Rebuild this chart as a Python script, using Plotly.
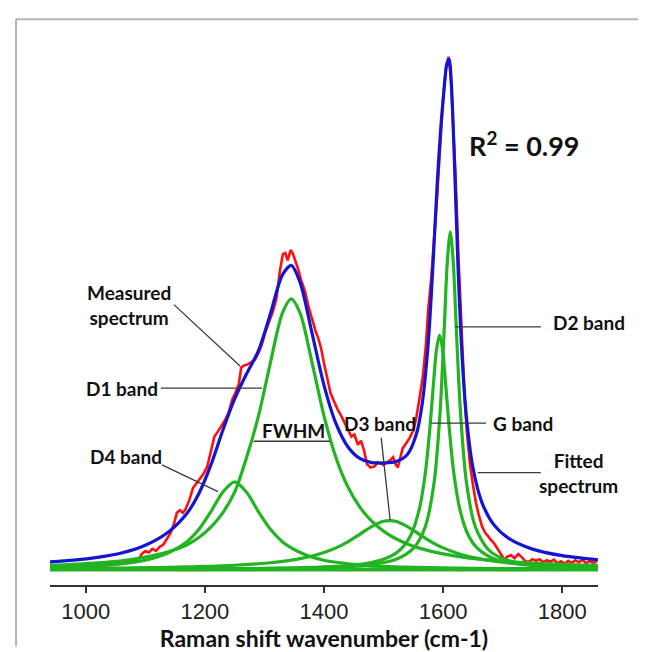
import plotly.graph_objects as go

# ---------------- data ----------------
tick_vals = [1000, 1200, 1400, 1600, 1800]

# broad fitted bands (D4, D1, D3) sampled on a common wavenumber grid
wn_broad = [940, 980, 1020, 1060, 1100, 1140, 1170, 1190, 1210, 1230,
            1250, 1270, 1290, 1310, 1330, 1345, 1360, 1380, 1400, 1420,
            1440, 1460, 1480, 1500, 1510, 1520, 1540, 1560, 1580, 1600,
            1630, 1660, 1700, 1750, 1800, 1860]
d4_band = [0.0040, 0.0050, 0.0070, 0.0110, 0.0180, 0.0330, 0.0540, 0.0780, 0.1120, 0.1500,
           0.1700, 0.1500, 0.1120, 0.0780, 0.0540, 0.0420, 0.0330, 0.0240, 0.0180, 0.0140,
           0.0110, 0.0090, 0.0070, 0.0060, 0.0055, 0.0050, 0.0045, 0.0040, 0.0035, 0.0030,
           0.0025, 0.0020, 0.0018, 0.0015, 0.0012, 0.0010]
d1_band = [0.0080, 0.0100, 0.0130, 0.0170, 0.0240, 0.0350, 0.0480, 0.0620, 0.0820, 0.1100,
           0.1500, 0.2172, 0.2980, 0.4011, 0.4968, 0.525, 0.4968, 0.4011, 0.2980, 0.2172,
           0.1604, 0.1212, 0.0939, 0.0744, 0.0668, 0.0602, 0.0496, 0.0415, 0.0352, 0.0302,
           0.0245, 0.0202, 0.0160, 0.0124, 0.0099, 0.0077]
d3_band = [0.0018, 0.0021, 0.0025, 0.0029, 0.0035, 0.0042, 0.0050, 0.0056, 0.0063, 0.0072,
           0.0082, 0.0095, 0.0111, 0.0131, 0.0157, 0.0181, 0.0210, 0.0261, 0.0329, 0.0419,
           0.0538, 0.0683, 0.0833, 0.0935, 0.095, 0.0935, 0.0833, 0.0683, 0.0538, 0.0419,
           0.0292, 0.0210, 0.0143, 0.0095, 0.0067, 0.0047]

# narrow bands
wn_g = [940, 1100, 1250, 1350, 1420, 1470, 1500, 1525, 1545, 1560, 1570, 1578, 1584, 1589,
        1594, 1599, 1604, 1610, 1618, 1628, 1640, 1655, 1680, 1710, 1760, 1810, 1860]
g_band = [0.0004, 0.0008, 0.0015, 0.0030, 0.0059, 0.0115, 0.0197, 0.0353, 0.0650, 0.1170,
          0.1865, 0.2774, 0.364, 0.4282, 0.455, 0.4282, 0.364, 0.2774, 0.1865, 0.1170,
          0.0723, 0.0442, 0.0233, 0.0131, 0.0065, 0.0039, 0.0026]
wn_d2 = [940, 1100, 1250, 1350, 1430, 1480, 1520, 1550, 1570, 1585, 1595, 1602, 1607, 1612,
         1617, 1622, 1629, 1639, 1654, 1675, 1700, 1740, 1790, 1860]
d2_band = [0.0004, 0.0006, 0.0013, 0.0024, 0.0050, 0.0095, 0.0192, 0.0409, 0.0830, 0.1702,
           0.3077, 0.4710, 0.5967, 0.655, 0.5967, 0.4710, 0.3077, 0.1702, 0.0830, 0.0397,
           0.0210, 0.0101, 0.0052, 0.0027]

wn_base = [940, 1860]
baseline = [0.0, 0.0]

# fitted spectrum
wn_fit = [940, 980, 1020, 1060, 1100, 1140, 1170, 1190, 1210, 1230,
          1250, 1270, 1290, 1310, 1330, 1345, 1360, 1380, 1400, 1420,
          1440, 1460, 1480, 1500, 1520, 1540, 1555, 1565, 1575, 1583,
          1590, 1596, 1601, 1606, 1610, 1614, 1619, 1625, 1632, 1640,
          1650, 1665, 1685, 1710, 1750, 1800, 1860]
fitted = [0.0146, 0.0180, 0.0236, 0.0320, 0.0470, 0.0738, 0.1090, 0.1476, 0.2025, 0.2697,
          0.3310, 0.3798, 0.4247, 0.4962, 0.5712, 0.5903, 0.5567, 0.4582, 0.3574, 0.2835,
          0.2383, 0.2156, 0.2073, 0.2067, 0.2089, 0.2231, 0.2623, 0.3228, 0.4398, 0.5918,
          0.7476, 0.8564, 0.9245, 0.9798, 0.9905, 0.9380, 0.7900, 0.5874, 0.4098, 0.2854,
          0.1978, 0.1303, 0.0871, 0.0605, 0.0395, 0.0268, 0.0187]

# measured spectrum
wn_meas = [985, 1000, 1015, 1030, 1045, 1060, 1075, 1088, 1094, 1100, 1106, 1112, 1118, 1124,
           1130, 1136, 1142, 1148, 1153, 1158, 1163, 1168, 1174, 1180, 1186, 1192, 1198, 1204,
           1210, 1216, 1222, 1228, 1234, 1240, 1246, 1252, 1257, 1261, 1266, 1272, 1278, 1284,
           1290, 1296, 1302, 1308, 1314, 1320, 1326, 1331, 1335, 1339, 1344, 1348, 1352, 1356,
           1362, 1368, 1374, 1380, 1386, 1390, 1395, 1400, 1406, 1411, 1417, 1423, 1429, 1435,
           1441, 1446, 1451, 1457, 1462, 1467, 1472, 1478, 1485, 1490, 1495, 1500, 1507, 1512,
           1516, 1520, 1524, 1528, 1532, 1538, 1544, 1550, 1555, 1560, 1566, 1571, 1575, 1580,
           1585, 1590, 1595, 1600, 1605, 1609, 1613, 1617, 1621, 1626, 1631, 1636, 1640, 1645,
           1650, 1655, 1660, 1665, 1670, 1675, 1680, 1686, 1692, 1698, 1703, 1708, 1714, 1720,
           1726, 1732, 1738, 1744, 1750, 1756, 1762, 1768, 1774, 1780, 1786, 1792, 1798, 1804,
           1810, 1816, 1822, 1828, 1834, 1840, 1846, 1852, 1858]
measured = [0.008, 0.010, 0.009, 0.012, 0.011, 0.014, 0.015, 0.018, 0.030, 0.036, 0.033, 0.040, 0.036, 0.044,
            0.048, 0.058, 0.070, 0.088, 0.110, 0.115, 0.110, 0.118, 0.135, 0.158, 0.168, 0.176, 0.186, 0.200,
            0.232, 0.258, 0.268, 0.278, 0.290, 0.305, 0.330, 0.345, 0.360, 0.392, 0.396, 0.398, 0.402, 0.407,
            0.420, 0.438, 0.462, 0.480, 0.500, 0.525, 0.580, 0.612, 0.614, 0.600, 0.620, 0.612, 0.600, 0.585,
            0.560, 0.540, 0.510, 0.485, 0.462, 0.450, 0.430, 0.400, 0.365, 0.342, 0.326, 0.310, 0.298, 0.284,
            0.270, 0.258, 0.262, 0.242, 0.250, 0.232, 0.205, 0.198, 0.200, 0.208, 0.206, 0.203, 0.209, 0.213,
            0.218, 0.205, 0.198, 0.215, 0.235, 0.245, 0.256, 0.270, 0.295, 0.330, 0.375, 0.435, 0.505, 0.565,
            0.640, 0.725, 0.820, 0.915, 0.975, 0.995, 0.955, 0.870, 0.760, 0.600, 0.450, 0.335, 0.265, 0.205,
            0.165, 0.130, 0.105, 0.085, 0.072, 0.066, 0.058, 0.050, 0.040, 0.028, 0.019, 0.025, 0.028, 0.022,
            0.030, 0.024, 0.016, 0.015, 0.020, 0.017, 0.020, 0.014, 0.018, 0.015, 0.019, 0.012, 0.016, 0.011,
            0.017, 0.013, 0.018, 0.014, 0.019, 0.012, 0.016, 0.013, 0.015]

# ---------------- styling ----------------
GREEN = "#22b422"
RED = "#ff1010"
BLUE = "#1414d2"
LEAD = "#3a3a3a"
LABEL_FONT = dict(family="Lato, Open Sans, sans-serif", size=19, color="#111111", weight="bold")

fig = go.Figure()

fig.add_trace(go.Scatter(x=wn_meas, y=measured, mode="lines", name="Measured spectrum",
                         line=dict(color=RED, width=2.6)))
fig.add_trace(go.Scatter(x=wn_base, y=baseline, mode="lines",
                         line=dict(color=GREEN, width=4), name="Baseline"))
for name, xs, ys in [("D4 band", wn_broad, d4_band), ("D1 band", wn_broad, d1_band),
                     ("D3 band", wn_broad, d3_band), ("G band", wn_g, g_band),
                     ("D2 band", wn_d2, d2_band)]:
    fig.add_trace(go.Scatter(x=xs, y=ys, mode="lines", name=name,
                             line=dict(color=GREEN, width=3.2, shape="spline", smoothing=0.8)))

fig.add_trace(go.Scatter(x=wn_fit, y=fitted, mode="lines", name="Fitted spectrum",
                         line=dict(color=BLUE, width=3.2, shape="spline", smoothing=0.8)))

# frame of the original figure (top and left edges)
frame = dict(type="line", xref="paper", yref="paper", line=dict(color="#b4b4b4", width=2))
shapes = [
    dict(frame, x0=-0.062, x1=1.11, y0=1.0157, y1=1.0157),
    dict(frame, x0=-0.062, x1=-0.062, y0=1.0157, y1=-0.11),
]

# leader lines (data coordinates)
leaders = [
    (1148, 0.514, 1259, 0.395),   # measured spectrum
    (1126, 0.352, 1296, 0.352),   # D1 band
    (1128, 0.203, 1222, 0.151),   # D4 band
    (1496, 0.256, 1511, 0.096),   # D3 band
    (1672, 0.284, 1580, 0.284),   # G band
    (1764, 0.471, 1620, 0.471),   # D2 band
    (1764, 0.188, 1658, 0.188),   # fitted spectrum
]
for x0, y0, x1, y1 in leaders:
    shapes.append(dict(type="line", xref="x", yref="y", x0=x0, y0=y0, x1=x1, y1=y1,
                       line=dict(color=LEAD, width=1.3)))
# FWHM bar
shapes.append(dict(type="line", xref="x", yref="y", x0=1282, y0=0.249, x1=1410, y1=0.249,
                   line=dict(color=LEAD, width=1.6)))

labels = [
    (1072, 0.513, "Measured<br>spectrum"),
    (1061, 0.352, "D1 band"),
    (1348, 0.270, "FWHM"),
    (1068, 0.220, "D4 band"),
    (1494, 0.283, "D3 band"),
    (1734, 0.283, "G band"),
    (1845, 0.480, "D2 band"),
    (1828, 0.188, "Fitted<br>spectrum"),
]
annotations = [dict(x=x, y=y, xref="x", yref="y", text=t, showarrow=False,
                    font=LABEL_FONT, xanchor="center", yanchor="middle")
               for x, y, t in labels]
annotations.append(dict(x=1737, y=0.826, xref="x", yref="y", text="R<sup>2</sup> = 0.99",
                        showarrow=False, xanchor="center", yanchor="middle",
                        font=dict(family="Lato, Open Sans, sans-serif", size=27,
                                  color="#111111", weight="bold")))

fig.update_layout(
    width=646, height=652,
    margin=dict(l=42, r=56, t=20, b=58),
    paper_bgcolor="white", plot_bgcolor="white",
    showlegend=False,
    shapes=shapes,
    annotations=annotations,
    xaxis=dict(range=[940, 1860], tickvals=tick_vals, ticks="outside", ticklen=6,
               tickwidth=1.5, tickcolor="#333333", showline=True, linecolor="#333333",
               linewidth=1.8, showgrid=False, zeroline=False,
               tickfont=dict(family="Liberation Sans, Arial, sans-serif", size=22, color="#222222"),
               title=dict(text="Raman shift wavenumber (cm-1)", standoff=8,
                          font=dict(family="Lato, Open Sans, sans-serif", size=23,
                                    color="#111111", weight="bold"))),
    yaxis=dict(range=[-0.0301, 1.0508], visible=False),
)

fig.write_html("out.html")
